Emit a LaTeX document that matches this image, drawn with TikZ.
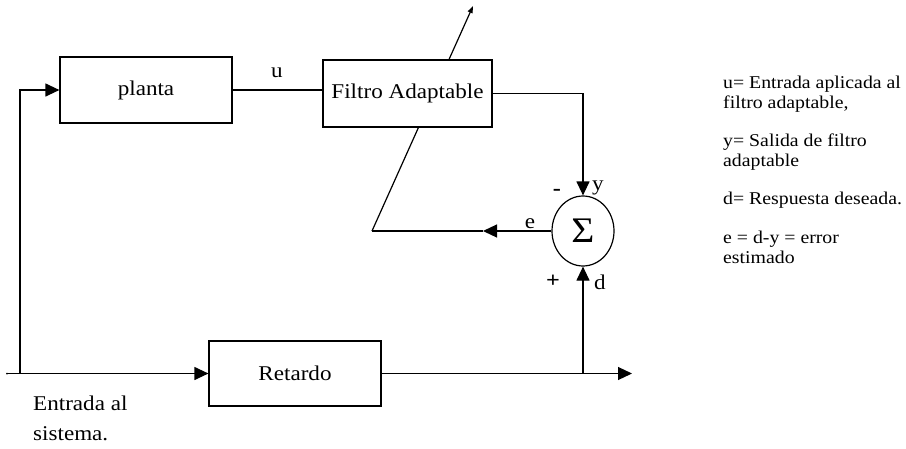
\documentclass[tikz,border=0pt]{standalone}
\usepackage{fontspec}
\setmainfont{Liberation Serif}[FakeStretch=1.1]
\usetikzlibrary{arrows.meta,shapes.geometric}
\begin{document}
\begin{tikzpicture}[x=1pt,y=-1pt,
  wire/.style={line width=1.2pt},
  tip/.style={-{Triangle[length=14pt,width=13pt]}},
  smalltip/.style={-{Triangle[length=7pt,width=5pt]}},
  block/.style={draw, fill=white, line width=1.2pt, inner sep=0pt,
    font=\fontsize{21}{24}\selectfont},
  lbl/.style={inner sep=0pt, font=\fontsize{21}{24}\selectfont},
  sign/.style={inner sep=0pt, font=\bfseries\fontsize{22}{24}\selectfont},
  note/.style={inner sep=0pt, anchor=base west, font=\fontsize{18}{20}\selectfont}]
\useasboundingbox (0,0) rectangle (906,448);

% coordinates
\coordinate (in) at (7,373.5);
\coordinate (j1) at (20,373.5);
\coordinate (j2) at (583,373.5);
\coordinate (out) at (632,373.5);
\coordinate (ec) at (372,231);
\coordinate (emid) at (483,231);
\coordinate (adj) at (473,6);

% adaptation line (passes behind the filter box)
\draw[wire,smalltip] (ec) -- (adj);

% blocks
\node[block, minimum width=172pt, minimum height=66pt] (planta) at (146,90) {planta};
\node[block, minimum width=169pt, minimum height=67pt] (filtro) at (407.5,93.5) {Filtro Adaptable};
\node[block, minimum width=172pt, minimum height=65pt] (retardo) at (295,373.5) {Retardo};
\node[draw, fill=white, ellipse, line width=1.2pt, inner sep=0pt,
  minimum width=62pt, minimum height=70pt] (sum) at (583,231)
  {\fontsize{36}{36}\selectfont Σ};

% connectors
\draw[wire,tip] (in) -- (retardo.west);
\draw[wire,tip] (j1) |- (planta.west);
\draw[wire] (planta.east) -- (filtro.west |- planta.east);
\draw[wire,tip] (filtro.east) -| (sum.north);
\draw[wire,tip] (retardo.east) -- (out);
\draw[wire,tip] (j2) -- (sum.south);
\draw[wire,tip] (sum.west) -- (emid);
\draw[wire] (emid) -- (ec);
\fill (in) circle (1pt);

% labels
\node[lbl] (ulbl) at (277,73) {u};
\node[lbl] (elbl) at (530,224) {e};
\node[sign] (minus) at (557,192) {-};
\node[lbl] (ylbl) at (598,188) {y};
\node[sign] (plus) at (553,281) {+};
\node[lbl] (dlbl) at (600,282) {d};

% legend
\node[note] (n1) at (723,88) {u= Entrada aplicada al};
\node[note] (n2) at (723,108) {filtro adaptable,};
\node[note] (n3) at (723,146) {y= Salida de filtro};
\node[note] (n4) at (723,166) {adaptable};
\node[note] (n5) at (723,204) {d= Respuesta deseada.};
\node[note] (n6) at (723,243) {e = d-y = error};
\node[note] (n7) at (723,263) {estimado};

% system input caption
\node[lbl, anchor=north west, align=left, font=\fontsize{21}{30}\selectfont] (cap) at (33,396) {Entrada al\\sistema.};
\end{tikzpicture}
\end{document}
